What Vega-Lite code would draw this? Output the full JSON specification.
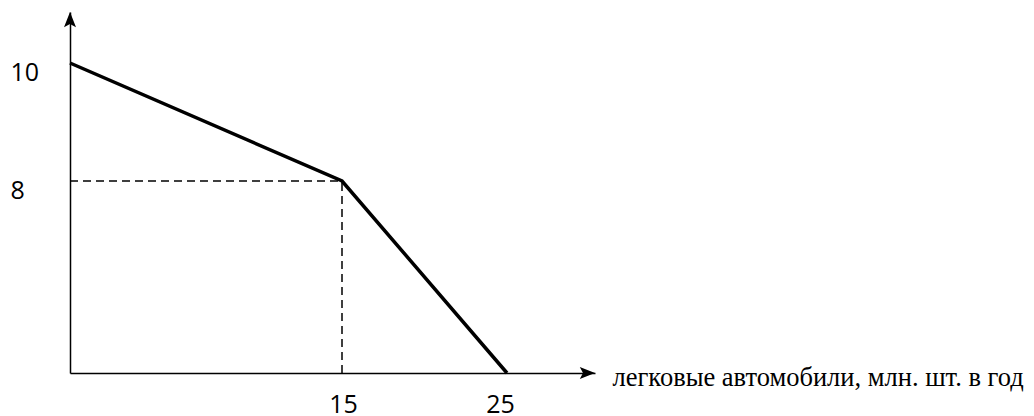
{
  "$schema": "https://vega.github.io/schema/vega-lite/v6.json",
  "width": 525,
  "height": 361,
  "autosize": "none",
  "padding": {"left": 70, "top": 12, "right": 439, "bottom": 43},
  "background": "white",
  "config": {"view": {"stroke": null}},
  "datasets": {
    "ppf": [{"x": 0, "y": 10}, {"x": 15, "y": 8}, {"x": 25, "y": 0}],
    "guides": [{"x": 0, "x2": 15, "y": 8, "y2": 8}, {"x": 15, "x2": 15, "y": 0, "y2": 8}],
    "arrows": [{"x": 0, "y": 12, "dir": "up"}, {"x": 30, "y": 0, "dir": "right"}]
  },
  "encoding": {
    "x": {
      "field": "x", "type": "quantitative",
      "scale": {"domain": [0, 15, 25, 30], "range": [0, 272, 437, 525], "nice": false, "zero": false},
      "axis": {
        "values": [15, 25], "ticks": false, "grid": false,
        "domainColor": "#000000", "domainWidth": 1.5,
        "labelFont": "Open Sans", "labelFontSize": 25, "labelColor": "#000000",
        "labelBaseline": "alphabetic", "labelPadding": 39,
        "labelOffset": {"condition": {"test": "datum.value == 25", "value": -7}, "value": 1},
        "title": "легковые автомобили, млн. шт. в год",
        "titleFont": "Liberation Serif", "titleFontSize": 26.5, "titleFontWeight": "normal",
        "titleColor": "#000000", "titleAlign": "left", "titleBaseline": "alphabetic",
        "titleX": 542, "titleY": 12, "titleAnchor": null
      }
    },
    "y": {
      "field": "y", "type": "quantitative",
      "scale": {"domain": [0, 8, 10, 12], "range": [361, 169, 51, 0], "nice": false, "zero": false},
      "axis": {
        "values": [8, 10], "ticks": false, "grid": false,
        "domainColor": "#000000", "domainWidth": 1.5,
        "labelFont": "Open Sans", "labelFontSize": 25, "labelColor": "#000000",
        "labelAlign": "left", "labelBaseline": "alphabetic", "labelPadding": 60,
        "labelOffset": 17,
        "title": null
      }
    }
  },
  "layer": [
    {
      "data": {"name": "guides"},
      "mark": {"type": "rule", "color": "#000000", "strokeWidth": 1.5, "strokeDash": [8, 5]},
      "encoding": {"x2": {"field": "x2"}, "y2": {"field": "y2"}}
    },
    {
      "data": {"name": "ppf"},
      "mark": {"type": "line", "color": "#000000", "strokeWidth": 3.5, "strokeJoin": "miter"}
    },
    {
      "data": {"name": "arrows"},
      "transform": [{"filter": "datum.dir == 'up'"}],
      "mark": {"type": "point", "filled": true, "color": "#000000", "opacity": 1, "size": 256,
               "shape": "M0,0L0.75,1.9L0,1.5L-0.75,1.9Z"}
    },
    {
      "data": {"name": "arrows"},
      "transform": [{"filter": "datum.dir == 'right'"}],
      "mark": {"type": "point", "filled": true, "color": "#000000", "opacity": 1, "size": 256,
               "shape": "M0,0L-1.9,0.75L-1.5,0L-1.9,-0.75Z"}
    }
  ]
}
